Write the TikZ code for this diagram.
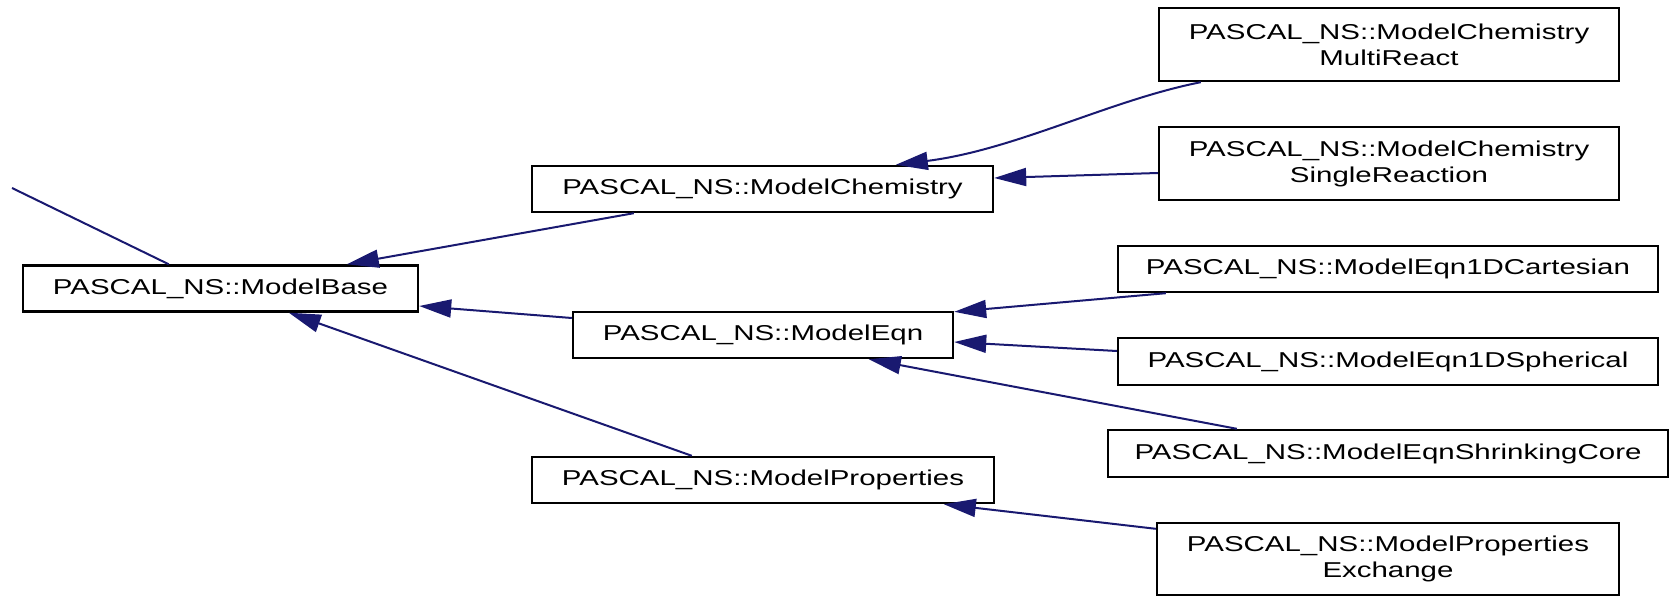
\documentclass[tikz,border=0pt]{standalone}
\usepackage{fontspec}
\newfontfamily\classfont{Liberation Sans}[FakeStretch=1.37]
\usetikzlibrary{arrows.meta}
\definecolor{edgeblue}{HTML}{191970}

\begin{document}
\begin{tikzpicture}[x=1pt,y=-1pt,
  cls/.style={rectangle, draw=black, line width=2.4pt, inner sep=0pt,
    minimum height=46pt, align=center,
    font=\classfont\fontsize{21.5}{26}\selectfont},
  inh/.style={draw=edgeblue, line width=2pt,
    -{Triangle[length=32pt,width=18pt]}}]

\useasboundingbox (0,0) rectangle (1670,596);

% base class:
\node[cls, minimum width=395pt] (base) at (220.5,288.5) {PASCAL\_NS::ModelBase};
\coordinate (up) at (12,188);

% 2nd tier:
\node[cls, minimum width=461pt] (chem) at (762.5,189) {PASCAL\_NS::ModelChemistry};
\node[cls, minimum width=380pt] (eqn) at (763,335) {PASCAL\_NS::ModelEqn};
\node[cls, minimum width=462pt] (props) at (763,480) {PASCAL\_NS::ModelProperties};

% 3rd tier:
\node[cls, minimum width=460pt, minimum height=73pt] (multi) at (1389,44.5)
  {PASCAL\_NS::ModelChemistry\\MultiReact};
\node[cls, minimum width=460pt, minimum height=73pt] (single) at (1389,163.5)
  {PASCAL\_NS::ModelChemistry\\SingleReaction};
\node[cls, minimum width=540pt] (cart) at (1388,269) {PASCAL\_NS::ModelEqn1DCartesian};
\node[cls, minimum width=540pt, minimum height=47pt] (sph) at (1388,361.5) {PASCAL\_NS::ModelEqn1DSpherical};
\node[cls, minimum width=560pt, minimum height=47pt] (shrink) at (1388,453.5) {PASCAL\_NS::ModelEqnShrinkingCore};
\node[cls, minimum width=462pt, minimum height=72pt] (exch) at (1388,559)
  {PASCAL\_NS::ModelProperties\\Exchange};

% inheritance arrows, child to parent
\draw[edgeblue, line width=2pt] (up) -- ([xshift=147pt]base.north west);
\draw[inh] ([xshift=103pt]chem.south west) -- ([xshift=325pt]base.north west);
\draw[inh] ([yshift=17pt]eqn.west) -- ([yshift=-17.5pt]base.east);
\draw[inh] ([xshift=161pt]props.north west) -- ([xshift=267pt]base.south west);

\draw[inh] ([xshift=43pt]multi.south west) .. controls (1110,100) and (1015,150) .. ([xshift=365pt]chem.north west);
\draw[inh] ([yshift=-9.5pt]single.west) -- ([yshift=11pt]chem.east);

\draw[inh] ([xshift=49pt]cart.south west) -- ([yshift=-1pt]eqn.north east);
\draw[inh] ([yshift=10.5pt]sph.west) -- ([yshift=-7pt]eqn.east);
\draw[inh] ([xshift=130pt]shrink.north west) -- ([xshift=297pt]eqn.south west);

\draw[inh] ([yshift=-7pt]exch.north west) -- ([xshift=413pt]props.south west);

\end{tikzpicture}
\end{document}
